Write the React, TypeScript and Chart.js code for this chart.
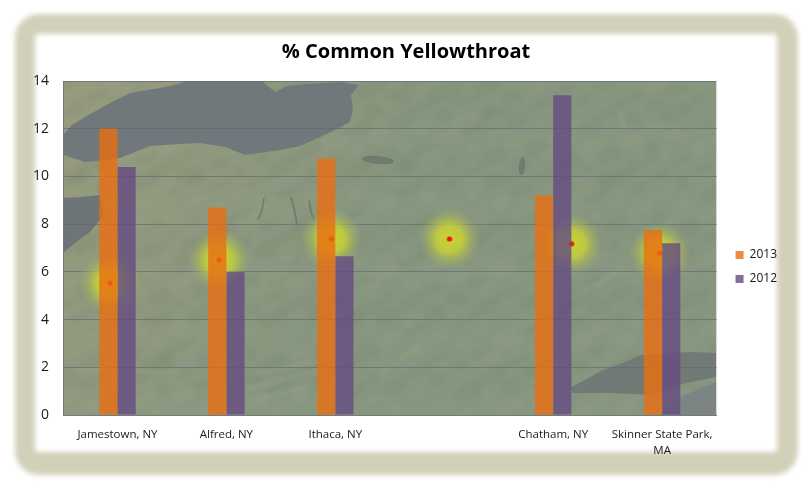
import { useEffect, useRef } from "react"
import { Chart, registerables } from "chart.js"
Chart.register(...registerables)

const categories = ["Jamestown, NY", "Alfred, NY", "Ithaca, NY", "", "Chatham, NY", ["Skinner State Park,", "MA"]]
const values2013 = [12, 8.7, 10.75, null, 9.2, 7.75]
const values2012 = [10.4, 6, 6.65, null, 13.4, 7.2]

// survey sites on the map, x counted in categories (0 = middle of the first one)
const siteX = [-0.068, 0.934, 1.963, 3.048, 4.169, 4.978]
const siteY = [5.53, 6.5, 7.38, 7.38, 7.18, 6.79]

// map outlines, in reference pixels
const ontario = [[63, 135], [72, 125], [85, 117], [110, 103], [130, 93], [160, 88], [178, 84], [188, 81], [262, 81], [275, 92], [287, 86], [305, 84], [340, 82], [359, 85], [351, 95], [353, 110], [350, 122], [335, 130], [318, 138], [300, 146], [280, 150], [245, 155], [225, 147], [200, 143], [180, 144], [150, 146], [120, 158], [95, 161], [85, 162], [70, 157], [63, 155]]
const erie = [[63, 198], [80, 197], [100, 195], [104, 215], [90, 232], [75, 243], [63, 253]]
const sound = [[570, 388], [603, 370], [630, 360], [640, 355], [690, 352], [716, 353], [716, 377], [677, 385], [653, 395], [613, 393], [573, 393]]
const sea = [[716, 382], [678, 398], [660, 415], [716, 415]]
const smallLakes = [[378, 160, 16, 4], [522, 166, 3, 9]]
const fingerLakes = [[[291, 197], [294, 208], [297, 224]], [[309, 200], [311, 212], [314, 220]], [[264, 198], [262, 210], [258, 220]]]
const ridges = [[250, 375, 330, 358], [245, 390, 320, 370], [255, 400, 310, 385], [380, 375, 420, 345], [570, 300, 620, 270], [530, 410, 545, 385], [70, 370, 180, 372], [620, 110, 625, 130]]

function makeGlow() {
  const c = document.createElement("canvas")
  c.width = 70
  c.height = 70
  const g = c.getContext("2d")!
  const grad = g.createRadialGradient(35, 35, 0, 35, 35, 32)
  grad.addColorStop(0, "rgba(206,216,45,0.95)")
  grad.addColorStop(0.42, "rgba(200,210,55,0.85)")
  grad.addColorStop(0.72, "rgba(175,190,85,0.42)")
  grad.addColorStop(1, "rgba(150,170,110,0)")
  g.fillStyle = grad
  g.fillRect(0, 0, 70, 70)
  g.fillStyle = "#f01010"
  g.beginPath()
  g.arc(35, 35, 2.6, 0, Math.PI * 2)
  g.fill()
  return c
}

function shape(ctx: CanvasRenderingContext2D, pts: number[][], fill: string) {
  ctx.fillStyle = fill
  ctx.beginPath()
  pts.forEach((p, i) => (i ? ctx.lineTo(p[0], p[1]) : ctx.moveTo(p[0], p[1])))
  ctx.closePath()
  ctx.fill()
}

const mapPlugin = {
  id: "map",
  afterLayout(chart: any) {
    // the legend sits a bit below the middle of the plot in the original
    chart.legend.top += 2
    chart.legend.bottom += 2
    chart.legend.left += 7
    chart.legend.right += 7
    // title is centred on the whole picture, not the padded part
    chart.titleBlock.left += 16
    chart.titleBlock.right += 16
  },
  beforeDraw(chart: any) {
    const { ctx, chartArea: a } = chart
    const w = a.right - a.left
    const h = a.bottom - a.top
    ctx.save()
    ctx.beginPath()
    ctx.rect(a.left, a.top, w, h)
    ctx.clip()
    ctx.fillStyle = "#87967f"
    ctx.fillRect(a.left, a.top, w, h)

    const tan = ctx.createLinearGradient(a.left, a.top, a.left + w * 0.45, a.top + h * 0.5)
    tan.addColorStop(0, "rgba(165,160,125,0.55)")
    tan.addColorStop(1, "rgba(165,160,125,0)")
    ctx.fillStyle = tan
    ctx.fillRect(a.left, a.top, w, h)

    // mottled ground, a fixed integer hash so it is the same every run
    ctx.filter = "blur(2px)"
    for (let i = 0; i < 500; i++) {
      const hx = (i * 7919 + 13) % 653
      const hy = (i * 104729 + 7) % 334
      ctx.fillStyle = (i * 31) % 5 < 2 ? "rgba(165,172,145,0.14)" : "rgba(100,120,95,0.11)"
      ctx.beginPath()
      ctx.ellipse(a.left + hx, a.top + hy, 5 + (i % 14), 3 + (i % 6), -0.4, 0, Math.PI * 2)
      ctx.fill()
    }
    ctx.strokeStyle = "rgba(175,178,150,0.45)"
    ctx.lineWidth = 2
    ridges.forEach((r) => {
      ctx.beginPath()
      ctx.moveTo(r[0], r[1])
      ctx.lineTo(r[2], r[3])
      ctx.stroke()
    })
    ctx.filter = "blur(0.6px)"

    shape(ctx, ontario, "#71787b")
    shape(ctx, erie, "#6e7578")
    shape(ctx, sound, "#727a76")
    shape(ctx, sea, "#7d8584")

    ctx.fillStyle = "#6f7b70"
    smallLakes.forEach((l) => {
      ctx.beginPath()
      ctx.ellipse(l[0], l[1], l[2], l[3], 0.1, 0, Math.PI * 2)
      ctx.fill()
    })
    ctx.strokeStyle = "rgba(95,110,100,0.6)"
    ctx.lineWidth = 2
    fingerLakes.forEach((line) => {
      ctx.beginPath()
      line.forEach((p, i) => (i ? ctx.lineTo(p[0], p[1]) : ctx.moveTo(p[0], p[1])))
      ctx.stroke()
    })
    ctx.filter = "none"
    ctx.restore()
  },
}

export default function App() {
  const chartRef = useRef<HTMLCanvasElement>(null)

  useEffect(() => {
    if (!chartRef.current) return
    const font = "'Open Sans', sans-serif"
    const chart = new Chart(chartRef.current, {
      type: "bar",
      data: {
        labels: categories as any,
        datasets: [
          { label: "2013", data: values2013, backgroundColor: "rgba(234,110,16,0.8)", categoryPercentage: 0.3345, barPercentage: 1, order: 1 },
          { label: "2012", data: values2012, backgroundColor: "rgba(101,75,129,0.8)", categoryPercentage: 0.3345, barPercentage: 1, order: 1 },
          {
            // shares the category axis, a second x axis would halve the bars
            type: "scatter",
            label: "Sites",
            data: siteX.map((x, i) => ({ x, y: siteY[i] })),
            parsing: false,
            pointStyle: makeGlow(),
            order: 2,
          } as any,
        ],
      },
      options: {
        responsive: false,
        animation: false,
        layout: { padding: { left: 0, right: 32, top: 40, bottom: 0 } },
        scales: {
          x: {
            grid: { display: false },
            border: { color: "#77797a" },
            ticks: { font: { family: font, size: 11.5, lineHeight: 1.4 }, color: "#1a1a1a", padding: 4, maxRotation: 0, autoSkip: false },
            afterFit: (s: any) => { s.height = 75 },
          },
          y: {
            min: 0,
            max: 14,
            ticks: { stepSize: 2, font: { family: font, size: 14 }, color: "#1a1a1a", padding: 14 },
            grid: { color: "rgba(100,100,115,0.65)", drawTicks: false },
            border: { color: "#77797a" },
            afterFit: (s: any) => { s.width = 63 },
          },
        },
        plugins: {
          title: {
            display: true,
            text: "% Common Yellowthroat",
            color: "#000",
            font: { family: font, size: 20, weight: "bold" },
            padding: { top: 0, bottom: 17 },
          },
          legend: {
            position: "right",
            labels: {
              boxWidth: 8,
              boxHeight: 8,
              padding: 12,
              font: { family: font, size: 12 },
              color: "#1a1a1a",
              filter: (item: any) => item.datasetIndex < 2,
            },
          },
          tooltip: { enabled: false },
        },
      },
      plugins: [mapPlugin],
    })
    return () => chart.destroy()
  }, [])

  return (
    <div style={{ position: "fixed", left: 0, top: 0, width: 812, height: 490, background: "#fff", overflow: "hidden" }}>
      <div
        style={{
          position: "absolute",
          left: 15,
          top: 14,
          width: 742,
          height: 418,
          borderStyle: "solid",
          borderColor: "#d3d0b9",
          borderWidth: "20px 21px 23px 20px",
          borderRadius: 24,
          filter: "blur(2.5px)",
        }}
      />
      <canvas ref={chartRef} width={812} height={490} style={{ position: "absolute", left: 0, top: 0, display: "block" }} />
    </div>
  )
}
